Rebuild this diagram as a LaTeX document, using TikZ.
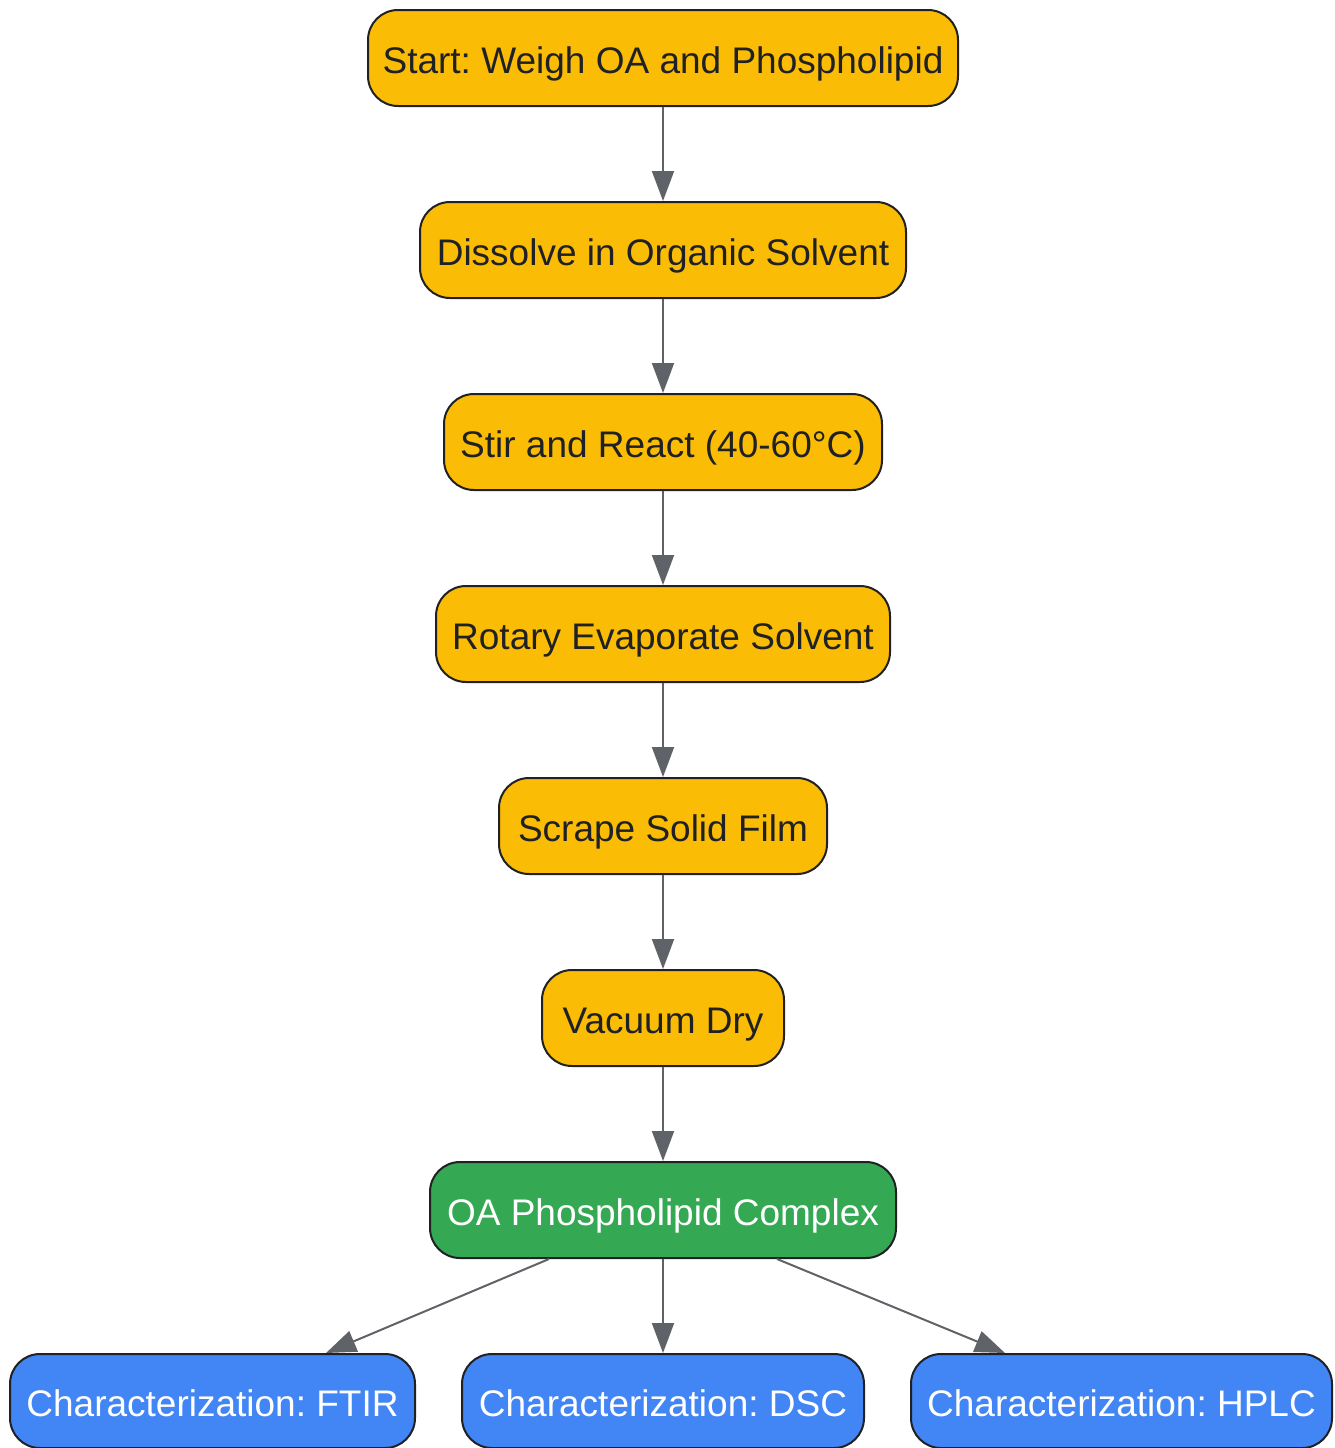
\documentclass[tikz,border=0pt]{standalone}
\usepackage{fontspec}
\setmainfont{Liberation Sans}
\frenchspacing
\usetikzlibrary{arrows.meta,calc}
\definecolor{gy}{HTML}{FBBC05}
\definecolor{gg}{HTML}{34A853}
\definecolor{gb}{HTML}{4285F4}
\definecolor{ink}{HTML}{202124}
\definecolor{arr}{HTML}{5F6368}
\begin{document}
\begin{tikzpicture}[x=1pt,y=-1pt,
  box/.style={draw=ink,line width=2pt,rounded corners=30pt,minimum height=96pt,inner sep=0pt,
    text height=30pt,text depth=0pt,font=\fontsize{37}{44}\selectfont},
  ybox/.style={box,fill=gy,text=ink},
  gbox/.style={box,fill=gg,text=white},
  bbox/.style={box,fill=gb,text=white},
  flow/.style={draw=arr,line width=2pt,-{Triangle[width=22pt,length=30pt]}}]
\useasboundingbox (0,0) rectangle (1334,1448);
\node[ybox,minimum width=590pt] (n1) at (663,58) {Start: Weigh OA and Phospholipid};
\node[ybox,minimum width=486pt] (n2) at (663,250) {Dissolve in Organic Solvent};
\node[ybox,minimum width=438pt] (n3) at (663,442) {Stir and React (40-60°C)};
\node[ybox,minimum width=454pt] (n4) at (663,634) {Rotary Evaporate Solvent};
\node[ybox,minimum width=328pt] (n5) at (663,826) {Scrape Solid Film};
\node[ybox,minimum width=242pt] (n6) at (663,1018) {Vacuum Dry};
\node[gbox,minimum width=466pt] (n7) at (663,1210) {OA Phospholipid Complex};
\node[bbox,minimum width=405pt,minimum height=94pt] (f) at (212.5,1401) {Characterization: FTIR};
\node[bbox,minimum width=402pt,minimum height=94pt] (d) at (663,1401) {Characterization: DSC};
\node[bbox,minimum width=421pt,minimum height=94pt] (h) at (1121.5,1401) {Characterization: HPLC};
\draw[flow] (n1) -- (n2);
\draw[flow] (n2) -- (n3);
\draw[flow] (n3) -- (n4);
\draw[flow] (n4) -- (n5);
\draw[flow] (n5) -- (n6);
\draw[flow] (n6) -- (n7);
\draw[flow] (n7) -- (d);
\coordinate (l0) at ($(n7.south west)+(120,0)$);
\coordinate (l1) at ($(f.north east)+(-90,0)$);
\coordinate (r0) at ($(n7.south east)+(-120,0)$);
\coordinate (r1) at ($(h.north west)+(95,0)$);
\draw[flow] (l0) -- (l1);
\draw[flow] (r0) -- (r1);
\end{tikzpicture}
\end{document}
